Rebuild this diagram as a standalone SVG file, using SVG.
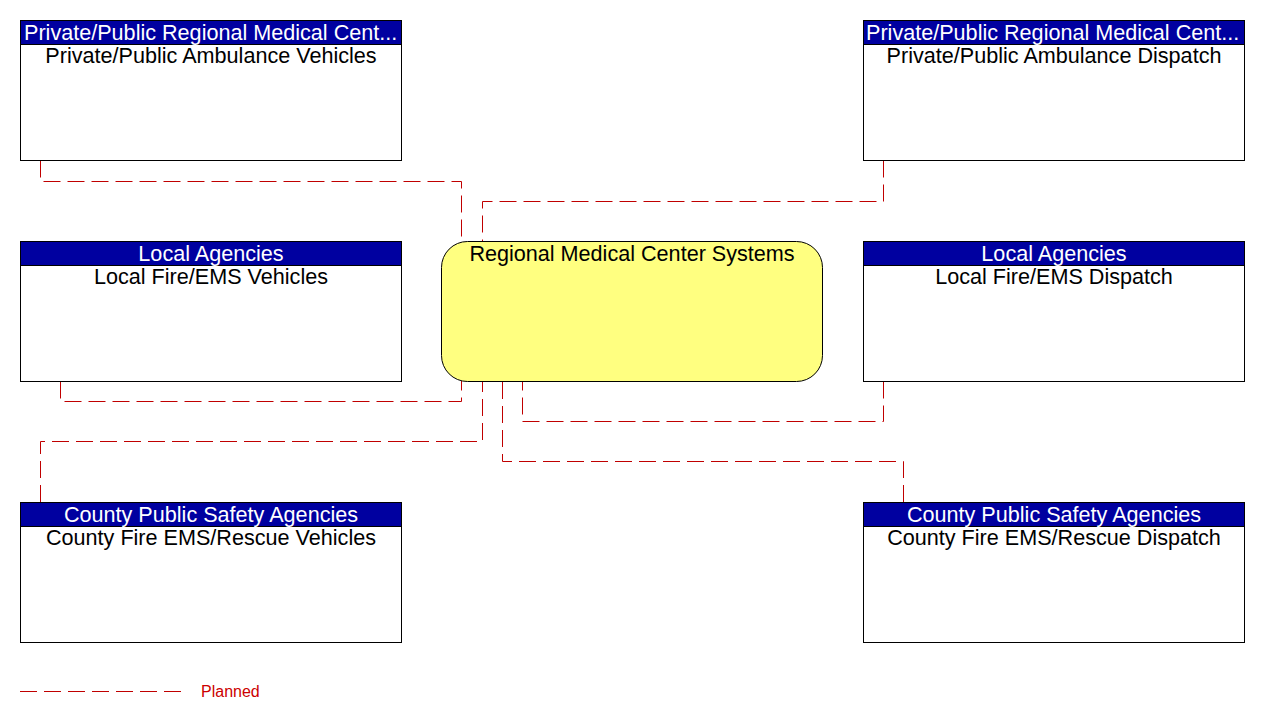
<svg xmlns="http://www.w3.org/2000/svg" width="1261" height="722" viewBox="0 0 1261 722">
<style>
.box{fill:#ffffff;stroke:#000000;stroke-width:1}
.hdr{fill:#0000a0;stroke:#000000;stroke-width:1}
.ht{font-family:"Liberation Sans",Arial,sans-serif;font-size:21.6px;fill:#ffffff}
.bt{font-family:"Liberation Sans",Arial,sans-serif;font-size:21.6px;fill:#000000;text-anchor:middle}
.c{text-anchor:middle}
.conn{fill:none;stroke:#c00000;stroke-width:1;stroke-dasharray:17 7}
.leg{font-family:"Liberation Sans",Arial,sans-serif;font-size:16px;fill:#cc0000}
</style>
<rect width="1261" height="722" fill="#ffffff"/>
<g id="connectors">
<path class="conn" d="M40.5,160.5 V181.5 H461.5 V241"/>
<path class="conn" d="M883.5,160.5 V201.5 H482.5 V241"/>
<path class="conn" d="M60.5,381.5 V401.5 H461.5 V381"/>
<path class="conn" d="M40.5,502 V441.5 H482.5 V381"/>
<path class="conn" d="M883.5,381.5 V421.5 H522.5 V381"/>
<path class="conn" d="M903.5,502 V461.5 H502.5 V381"/>
</g>
<g id="center">
<rect x="441.5" y="241.5" width="381" height="140" rx="26" ry="26" fill="#ffff80" stroke="#000000" stroke-width="1"/>
<text class="bt" x="632" y="261">Regional Medical Center Systems</text>
</g>
<g id="amb-vehicles">
<rect class="box" x="20.5" y="20.5" width="381" height="140"/>
<rect class="hdr" x="20.5" y="20.5" width="381" height="24"/>
<text class="ht" x="24" y="39.5">Private/Public Regional Medical Cent...</text>
<text class="bt" x="211" y="63">Private/Public Ambulance Vehicles</text>
</g>
<g id="amb-dispatch">
<rect class="box" x="863.5" y="20.5" width="381" height="140"/>
<rect class="hdr" x="863.5" y="20.5" width="381" height="24"/>
<text class="ht" x="866" y="39.5">Private/Public Regional Medical Cent...</text>
<text class="bt" x="1054" y="63">Private/Public Ambulance Dispatch</text>
</g>
<g id="fire-vehicles">
<rect class="box" x="20.5" y="241.5" width="381" height="140"/>
<rect class="hdr" x="20.5" y="241.5" width="381" height="24"/>
<text class="ht c" x="211" y="260.5">Local Agencies</text>
<text class="bt" x="211" y="284">Local Fire/EMS Vehicles</text>
</g>
<g id="fire-dispatch">
<rect class="box" x="863.5" y="241.5" width="381" height="140"/>
<rect class="hdr" x="863.5" y="241.5" width="381" height="24"/>
<text class="ht c" x="1054" y="260.5">Local Agencies</text>
<text class="bt" x="1054" y="284">Local Fire/EMS Dispatch</text>
</g>
<g id="county-vehicles">
<rect class="box" x="20.5" y="502.5" width="381" height="140"/>
<rect class="hdr" x="20.5" y="502.5" width="381" height="24"/>
<text class="ht c" x="211" y="521.5">County Public Safety Agencies</text>
<text class="bt" x="211" y="545">County Fire EMS/Rescue Vehicles</text>
</g>
<g id="county-dispatch">
<rect class="box" x="863.5" y="502.5" width="381" height="140"/>
<rect class="hdr" x="863.5" y="502.5" width="381" height="24"/>
<text class="ht c" x="1054" y="521.5">County Public Safety Agencies</text>
<text class="bt" x="1054" y="545">County Fire EMS/Rescue Dispatch</text>
</g>
<g id="legend">
<path class="conn" d="M20,691.5 H181"/>
<text class="leg" x="201" y="697">Planned</text>
</g>
</svg>
